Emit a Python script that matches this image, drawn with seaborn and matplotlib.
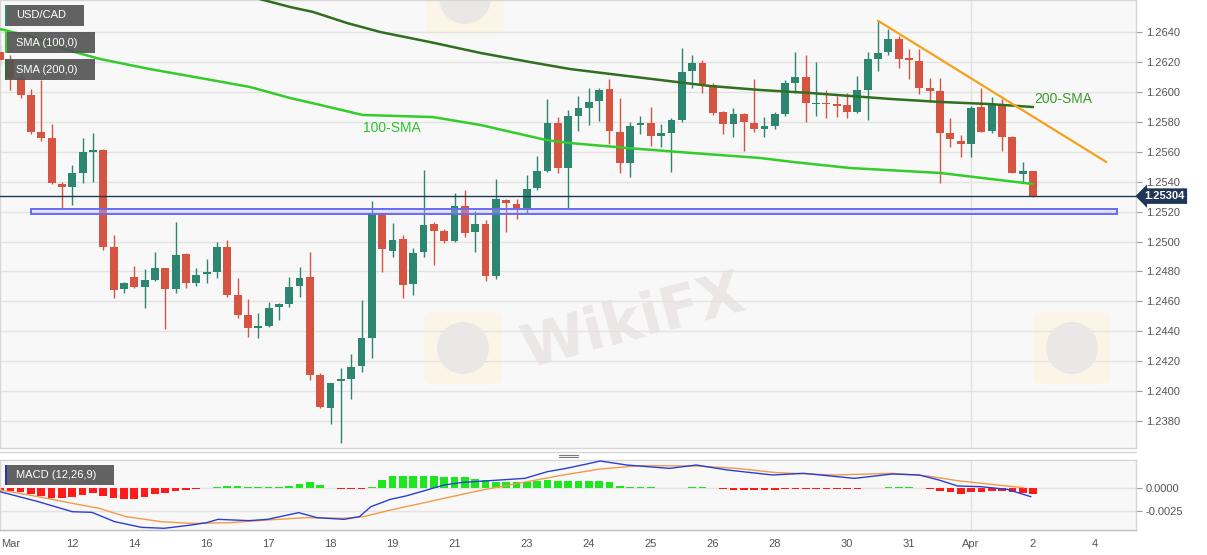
import numpy as np
import seaborn as sns
import matplotlib.pyplot as plt
from matplotlib.patches import Rectangle, FancyBboxPatch, Ellipse
from matplotlib.lines import Line2D

# USD/CAD 4H candles, index 0 sits on the "12" tick
first_idx = -7
opens = [1.26269, 1.26215, 1.26094, 1.25981, 1.25733, 1.25692, 1.25385, 1.25365, 1.25459, 1.25600,
         1.25613, 1.24963, 1.24683, 1.24763, 1.24696, 1.24743, 1.24823, 1.24683, 1.24917, 1.24723,
         1.24783, 1.24797, 1.24963, 1.24643, 1.24509, 1.24421, 1.24435, 1.24562, 1.24582, 1.24703,
         1.24763, 1.24108, 1.23886, 1.24067, 1.24081, 1.24168, 1.24354, 1.25191, 1.24937, 1.25017,
         1.24716, 1.24931, 1.25117, 1.25071, 1.25004, 1.25238, 1.25064, 1.25117, 1.24770, 1.25278,
         1.25251, 1.25224, 1.25358, 1.25472, 1.25793, 1.25492, 1.25840, 1.25893, 1.25940, 1.26021,
         1.25733, 1.25526, 1.25780, 1.25793, 1.25706, 1.25726, 1.25813, 1.26141, 1.26195, 1.26048,
         1.25866, 1.25786, 1.25853, 1.25793, 1.25753, 1.25773, 1.25853, 1.26061, 1.26101, 1.25920,
         1.25927, 1.25920, 1.25913, 1.25866, 1.26014, 1.26222, 1.26269, 1.26355, 1.26228, 1.26208,
         1.26027, 1.26007, 1.25726, 1.25672, 1.25652, 1.25900, 1.25739, 1.25920, 1.25699, 1.25452,
         1.25472]
closes = [1.26215, 1.26094, 1.25981, 1.25733, 1.25692, 1.25392, 1.25365, 1.25459, 1.25600, 1.25613,
          1.24963, 1.24676, 1.24723, 1.24696, 1.24743, 1.24823, 1.24683, 1.24911, 1.24723, 1.24777,
          1.24797, 1.24963, 1.24643, 1.24509, 1.24421, 1.24435, 1.24555, 1.24582, 1.24696, 1.24756,
          1.24108, 1.23893, 1.24054, 1.24081, 1.24161, 1.24354, 1.25191, 1.24950, 1.25010, 1.24710,
          1.24924, 1.25111, 1.25071, 1.25004, 1.25238, 1.25057, 1.25117, 1.24770, 1.25285, 1.25258,
          1.25224, 1.25352, 1.25472, 1.25793, 1.25492, 1.25840, 1.25893, 1.25933, 1.26014, 1.25739,
          1.25526, 1.25773, 1.25793, 1.25706, 1.25726, 1.25813, 1.26135, 1.26195, 1.26054, 1.25860,
          1.25786, 1.25853, 1.25800, 1.25753, 1.25773, 1.25853, 1.26061, 1.26101, 1.25927, 1.25927,
          1.25920, 1.25907, 1.25866, 1.26014, 1.26222, 1.26262, 1.26355, 1.26222, 1.26215, 1.26027,
          1.26007, 1.25726, 1.25686, 1.25652, 1.25893, 1.25733, 1.25920, 1.25699, 1.25459, 1.25472,
          1.25304]
highs = [1.26315, 1.26249, 1.26135, 1.26021, 1.26081, 1.25786, 1.25399, 1.25513, 1.25692, 1.25726,
         1.25620, 1.25044, 1.24730, 1.24837, 1.24817, 1.24931, 1.24823, 1.25131, 1.24924, 1.24823,
         1.24884, 1.24997, 1.25010, 1.24756, 1.24616, 1.24522, 1.24596, 1.24589, 1.24763, 1.24830,
         1.24931, 1.24121, 1.24054, 1.24154, 1.24248, 1.24609, 1.25271, 1.25191, 1.25124, 1.25044,
         1.24957, 1.25479, 1.25131, 1.25084, 1.25325, 1.25345, 1.25204, 1.25144, 1.25419, 1.25285,
         1.25285, 1.25446, 1.25573, 1.25954, 1.25833, 1.25880, 1.25974, 1.26027, 1.26027, 1.26088,
         1.25960, 1.25800, 1.25840, 1.25900, 1.25786, 1.25827, 1.26295, 1.26249, 1.26215, 1.26061,
         1.25873, 1.25893, 1.25860, 1.26088, 1.25833, 1.25866, 1.26081, 1.26269, 1.26249, 1.26201,
         1.26014, 1.25974, 1.25994, 1.26108, 1.26269, 1.26476, 1.26422, 1.26375, 1.26288, 1.26288,
         1.26094, 1.26094, 1.25827, 1.25713, 1.25907, 1.26027, 1.25967, 1.25954, 1.25706, 1.25533,
         1.25472]
lows = [1.26182, 1.26014, 1.25960, 1.25719, 1.25672, 1.25385, 1.25224, 1.25245, 1.25392, 1.25399,
        1.24944, 1.24622, 1.24656, 1.24689, 1.24555, 1.24736, 1.24415, 1.24656, 1.24689, 1.24703,
        1.24723, 1.24756, 1.24629, 1.24488, 1.24361, 1.24354, 1.24428, 1.24475, 1.24562, 1.24629,
        1.24074, 1.23886, 1.23779, 1.23652, 1.23947, 1.24128, 1.24221, 1.24797, 1.24897, 1.24622,
        1.24643, 1.24897, 1.24844, 1.24990, 1.24997, 1.25030, 1.24931, 1.24736, 1.24750, 1.25064,
        1.25151, 1.25191, 1.25345, 1.25466, 1.25459, 1.25218, 1.25739, 1.25779, 1.25806, 1.25652,
        1.25459, 1.25432, 1.25719, 1.25639, 1.25632, 1.25466, 1.25800, 1.26027, 1.25994, 1.25846,
        1.25719, 1.25699, 1.25606, 1.25733, 1.25699, 1.25753, 1.25840, 1.25994, 1.25800, 1.25840,
        1.25827, 1.25833, 1.25827, 1.25860, 1.25813, 1.26141, 1.26249, 1.26161, 1.26088, 1.25987,
        1.25933, 1.25392, 1.25632, 1.25566, 1.25566, 1.25733, 1.25726, 1.25606, 1.25459, 1.25399,
        1.25298]

# moving averages (candle index, price)
sma100_x = [-7.0, -3.8, -0.5, 2.7, 7.5, 12.4, 17.2, 21.1, 24.0, 28.1, 34.9, 39.5, 45.9, 48.2,
            53.7, 60.1, 66.6, 69.8, 75.3, 84.0, 93.0]
sma100_v = [1.26422, 1.26368, 1.26282, 1.26221, 1.26154, 1.26094, 1.26034, 1.25960, 1.25914,
            1.25847, 1.25833, 1.25780, 1.25679, 1.25659, 1.25626, 1.25592, 1.25559, 1.25532,
            1.25492, 1.25459, 1.25385]
sma200_x = [-7.0, 5.0, 18.5, 21.1, 23.3, 26.6, 29.8, 34.6, 39.5, 44.3, 48.2, 52.1, 56.9, 61.7,
            66.6, 71.4, 75.3, 79.2, 84.0, 88.8, 93.0]
sma200_v = [1.27071, 1.26857, 1.26616, 1.26569, 1.26536, 1.26462, 1.26402, 1.26335, 1.26262,
            1.26201, 1.26154, 1.26121, 1.26081, 1.26041, 1.26014, 1.25994, 1.25974, 1.25954,
            1.25934, 1.25920, 1.25900]

trend_x = [78.0, 100.1]
trend_v = [1.26477, 1.25532]
support_lo, support_hi = 1.25182, 1.25218
support_x = [-4.0, 101.1]
last_price = 1.25304

# MACD (12,26,9)
hist = [-0.00032, -0.00032, -0.00046, -0.00068, -0.00089, -0.00107, -0.00107, -0.00097, -0.00082, -0.00061,
        -0.00086, -0.00114, -0.00122, -0.00118, -0.00097, -0.00072, -0.00061, -0.00032, -0.00025, -0.00014,
        -0.00003, 0.00003, 0.00014, 0.00018, 0.00005, 0.00002, 0.00003, 0.00010, 0.00020, 0.00040,
        0.00060, 0.00030, -0.00003, -0.00010, -0.00010, -0.00010, 0.00003, 0.00080, 0.00120, 0.00130,
        0.00120, 0.00120, 0.00120, 0.00118, 0.00110, 0.00110, 0.00090, 0.00080, 0.00060, 0.00062,
        0.00058, 0.00058, 0.00075, 0.00080, 0.00070, 0.00075, 0.00075, 0.00075, 0.00075, 0.00060,
        0.00022, 0.00005, 0.00004, 0.00003, -0.00004, -0.00004, -0.00003, 0.00005, 0.00005, -0.00003,
        -0.00015, -0.00020, -0.00022, -0.00030, -0.00030, -0.00028, -0.00015, -0.00015, -0.00015, -0.00015,
        -0.00015, -0.00017, -0.00017, -0.00014, -0.00003, -0.00002, 0.00010, 0.00010, 0.00010, -0.00003,
        -0.00010, -0.00036, -0.00050, -0.00064, -0.00050, -0.00050, -0.00036, -0.00040, -0.00050, -0.00060,
        -0.00070]
macd_x = [-7.0, -3.3, 0.0, 1.9, 4.1, 6.7, 8.9, 11.5, 13.0, 14.1, 17.1, 18.9, 21.9, 23.7, 26.3, 27.8,
          28.9, 30.8, 32.3, 34.1, 36.0, 37.8, 40.4, 43.8, 44.9, 46.0, 47.8, 50.1, 51.1, 53.7, 57.8,
          60.4, 63.4, 67.8, 70.8, 75.7, 79.4, 82.0, 83.9, 85.7, 87.9, 90.5, 92.8]
macd_v = [-0.00043, -0.00150, -0.00258, -0.00265, -0.00365, -0.00426, -0.00436, -0.00401, -0.00376,
          -0.00340, -0.00354, -0.00340, -0.00268, -0.00322, -0.00340, -0.00311, -0.00204, -0.00125,
          -0.00089, -0.00032, 0.00029, 0.00057, 0.00075, 0.00100, 0.00136, 0.00172, 0.00207, 0.00261,
          0.00286, 0.00243, 0.00207, 0.00243, 0.00190, 0.00136, 0.00154, 0.00100, 0.00147, 0.00136,
          0.00082, 0.00018, 0.00011, -0.00018, -0.00097]
sig_x = [-7.0, -3.3, 0.0, 2.6, 5.2, 8.6, 11.5, 15.2, 18.9, 22.6, 26.3, 28.2, 30.8, 33.8, 36.7, 39.7,
         42.3, 44.9, 47.5, 51.1, 54.8, 60.4, 64.3, 68.2, 73.8, 79.4, 82.8, 85.7, 89.5, 92.1]
sig_v = [-0.00025, -0.00097, -0.00168, -0.00222, -0.00311, -0.00365, -0.00383, -0.00376, -0.00347,
         -0.00322, -0.00329, -0.00311, -0.00240, -0.00168, -0.00097, -0.00025, 0.00029, 0.00082,
         0.00136, 0.00200, 0.00236, 0.00233, 0.00207, 0.00161, 0.00136, 0.00154, 0.00125, 0.00075,
         0.00029, 0.00000]

tick_idx = [-6, 0, 6, 13, 19, 25, 31, 37, 44, 50, 56, 62, 68, 75, 81, 87, 93, 99]
tick_lbl = ['Mar', '12', '14', '16', '17', '18', '19', '21', '23', '24', '25', '26', '28',
            '30', '31', 'Apr', '2', '4']

GREEN = '#2c8670'
RED = '#d65442'

sns.set_style("white")
plt.rcParams['font.family'] = ['Liberation Sans', 'DejaVu Sans']

W, H = 1207, 555
fig = plt.figure(figsize=(W / 100, H / 100), dpi=100)
fig.patch.set_facecolor('white')


def fx(px):
    return px / W


def fy(py):
    return 1 - py / H


ax = fig.add_axes([0, fy(448), fx(1136), 448 / H])
axm = fig.add_axes([0, fy(529.5), fx(1136), 69.5 / H])

for a in (ax, axm):
    a.set_facecolor('#f8f8f8')
    a.set_xlim(-7.0, 102.97)
    for s in a.spines.values():
        s.set_color('#d6d6d6')
        s.set_linewidth(1)
    a.axvline(87, color='#e2e2e2', lw=1, zorder=0)

# faint watermark logos, plus the one fully visible watermark word
for cx, cy in [(463, 348), (1072, 348), (465, -2)]:
    ax.add_patch(FancyBboxPatch((fx(cx - 34), fy(cy + 34)), 68 / W, 68 / H,
                                boxstyle='round,pad=0.004,rounding_size=0.01',
                                transform=fig.transFigure, fc='#faf5e6', ec='none',
                                zorder=0.5, clip_on=False))
    ax.add_patch(Ellipse((fx(cx), fy(cy)), 52 / W, 52 / H, transform=fig.transFigure,
                         fc='#ebe7e7', ec='none', zorder=0.6, clip_on=False))
ax.text(fx(633), fy(323), 'WikiFX', transform=fig.transFigure, fontsize=42,
        fontweight='bold', color='#ebe7e7', rotation=15, ha='center', va='center',
        zorder=0.5, family='DejaVu Sans')

# candles
idx = np.arange(first_idx, first_idx + len(opens))
o = np.array(opens)
c = np.array(closes)
col = np.where(c >= o, GREEN, RED)
ax.vlines(idx, lows, highs, colors=col, lw=1, zorder=2)
ax.bar(idx, np.maximum(np.abs(c - o), 0.00006), bottom=np.minimum(o, c), width=0.76,
       color=col, linewidth=0, zorder=3)

sns.lineplot(x=sma200_x, y=sma200_v, ax=ax, color='#2f6f1f', lw=1.8, zorder=4)
sns.lineplot(x=sma100_x, y=sma100_v, ax=ax, color='#33cc2a', lw=1.8, zorder=4)
sns.lineplot(x=trend_x, y=trend_v, ax=ax, color='#f7a11a', lw=1.6, zorder=4)

ax.add_patch(Rectangle((support_x[0], support_lo), support_x[1] - support_x[0],
                       support_hi - support_lo, fc=(0.75, 0.75, 1.0, 0.35),
                       ec='#6b6bf0', lw=1.4, zorder=5))
ax.axhline(last_price, color='#1f3656', lw=1, zorder=5)

ax.text(28.1, 1.25760, '100-SMA', color='#2bc42b', fontsize=10, va='center', ha='left', zorder=6)
ax.text(93.1, 1.25954, '200-SMA', color='#3d9a2a', fontsize=10, va='center', ha='left', zorder=6)

ax.set_ylim(1.23619, 1.26616)
ax.yaxis.tick_right()
yt = np.arange(1.2380, 1.26410, 0.002)
ax.set_yticks(yt)
ax.set_yticklabels([f'{v:.4f}' for v in yt])
ax.tick_params(axis='y', colors='#9a9a9a', labelcolor='#555555', length=4, labelsize=8, pad=3)
ax.set_xticks([])
ax.grid(axis='y', color='#e3e3e3', lw=1)
ax.set_axisbelow(True)

ax.text(1.007, last_price, f'{last_price:.5f}', transform=ax.get_yaxis_transform(),
        color='white', fontsize=8, fontweight='bold', va='center', ha='left', zorder=10,
        clip_on=False, bbox=dict(boxstyle='larrow,pad=0.25', fc='#1f3656', ec='none'))

# MACD panel
hist_a = np.array(hist)
axm.bar(idx, hist_a, width=0.74, color=np.where(hist_a >= 0, '#1ee61e', '#ff1a1a'),
        linewidth=0, zorder=2)
sns.lineplot(x=sig_x, y=sig_v, ax=axm, color='#f39a4a', lw=1, zorder=3)
sns.lineplot(x=macd_x, y=macd_v, ax=axm, color='#2a3ed6', lw=1, zorder=3)
axm.set_ylim(-0.00449, 0.00297)
axm.yaxis.tick_right()
axm.set_yticks([0, -0.0025])
axm.set_yticklabels(['0.0000', '-0.0025'])
axm.grid(axis='y', color='#e3e3e3', lw=1)
axm.set_axisbelow(True)
axm.set_xticks(tick_idx)
axm.set_xticklabels(tick_lbl)
axm.tick_params(axis='both', colors='#9a9a9a', labelcolor='#555555', length=4, labelsize=8, pad=3)
axm.spines['bottom'].set_color('#bdbdbd')

# panel divider and handle
fig.add_artist(Line2D([0, fx(1136)], [fy(451.5), fy(451.5)], color='#d6d6d6', lw=1))
for yy in (454.5, 457):
    fig.add_artist(Line2D([fx(559), fx(578)], [fy(yy), fy(yy)], color='#777777', lw=0.8))

# legend boxes top-left
boxes = [('USD/CAD', 5, 5, 79, 21, GREEN),
         ('SMA (100,0)', 5, 32, 90, 21, '#33cc2a'),
         ('SMA (200,0)', 5, 59, 90, 21, '#2f6f1f'),
         ('MACD (12,26,9)', 5, 465, 109, 20, '#2233cc')]
for label, bx, by, bw, bh, stripe in boxes:
    fig.add_artist(Rectangle((fx(bx), fy(by + bh)), bw / W, bh / H, transform=fig.transFigure,
                             fc='#555555', alpha=0.92, ec='none', zorder=10))
    fig.add_artist(Rectangle((fx(bx), fy(by + bh)), 2 / W, bh / H, transform=fig.transFigure,
                             fc=stripe, ec='none', zorder=11))
    fig.text(fx(bx + 11), fy(by + bh / 2), label, color='white', fontsize=8,
             va='center', ha='left', zorder=12)

fig.savefig('out.png', dpi=100, facecolor='white')
